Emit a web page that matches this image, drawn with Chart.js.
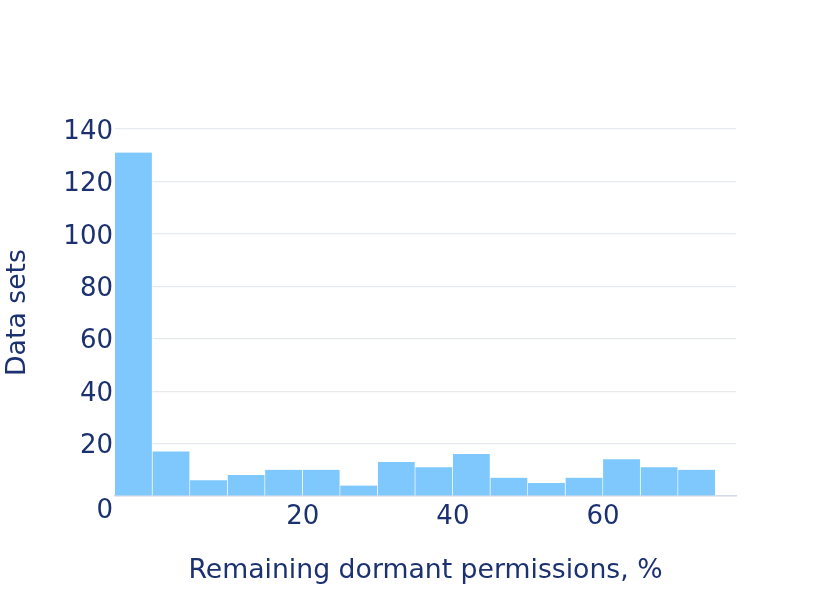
<!DOCTYPE html>
<html>
<head>
<meta charset="utf-8">
<script src="https://cdn.jsdelivr.net/npm/chart.js@4"></script>
<style>
  html, body { margin: 0; padding: 0; background: #fff; }
  #wrap { width: 831px; height: 593px; }
</style>
</head>
<body>
<div id="wrap"><canvas id="myChart" width="831" height="593"></canvas></div>
<script>
'use strict';

// histogram bins (start of each 5% bin) and counts
var binStarts = [-5, 0, 5, 10, 15, 20, 25, 30, 35, 40, 45, 50, 55, 60, 65, 70];
var binWidth = 5;
var counts = [131, 17, 6, 8, 10, 10, 4, 13, 11, 16, 7, 5, 7, 14, 11, 10];
var xTicks = [20, 40, 60];
var yTicks = [0, 20, 40, 60, 80, 100, 120, 140];

var textColor = '#1b3170';
var fontFamily = '"DejaVu Sans", sans-serif';

var points = binStarts.map(function(s, i){
    return { x: s + binWidth / 2, y: counts[i] };
});

// plotly puts the zero label a bit lower than its gridline
var zeroLabel = {
    id: 'zeroLabel',
    afterDraw: function(chart){
        var ctx = chart.ctx;
        var y = chart.scales.y;
        ctx.save();
        ctx.font = '26px ' + fontFamily;
        ctx.fillStyle = textColor;
        ctx.textAlign = 'right';
        ctx.textBaseline = 'middle';
        ctx.fillText('0', y.right - 2, y.getPixelForValue(0) + 15);
        ctx.restore();
    }
};

const ctx = document.getElementById('myChart');
var myChart = new Chart(ctx, {
    type: 'bar',
    data: {
        datasets: [{
            data: points,
            backgroundColor: '#7ec8fe',
            borderColor: 'rgba(255,255,255,0.8)',
            borderWidth: { top: 0, right: 1, bottom: 0, left: 0 },
            borderSkipped: false,
            barPercentage: 1,
            categoryPercentage: 1
        }]
    },
    plugins: [zeroLabel],
    options: {
        responsive: false,
        animation: false,
        layout: { padding: { left: 0, top: 129, right: 95, bottom: 0 } },
        plugins: {
            legend: { display: false },
            tooltip: { enabled: false }
        },
        scales: {
            x: {
                type: 'linear',
                offset: false,
                min: -5,
                max: 77.7,
                afterBuildTicks: function(axis){
                    axis.ticks = xTicks.map(function(v){ return { value: v }; });
                },
                afterFit: function(axis){ axis.height = 97; },
                grid: { display: false, drawTicks: false },
                border: { display: true, color: '#d3dce6', width: 1.5 },
                ticks: {
                    color: textColor,
                    font: { family: fontFamily, size: 26 },
                    padding: 6,
                    maxRotation: 0
                },
                title: {
                    display: true,
                    text: 'Remaining dormant permissions, %',
                    color: textColor,
                    font: { family: fontFamily, size: 26.7 },
                    padding: { top: 0, bottom: 6 }
                }
            },
            y: {
                min: 0,
                max: 140,
                afterBuildTicks: function(axis){
                    axis.ticks = yTicks.map(function(v){ return { value: v }; });
                },
                afterFit: function(axis){ axis.width = 115; },
                grid: { color: '#e6eaef', lineWidth: 1.2, drawTicks: false },
                border: { display: false },
                ticks: {
                    color: textColor,
                    font: { family: fontFamily, size: 26 },
                    padding: 2,
                    labelOffset: 3,
                    callback: function(v){ return v === 0 ? '' : v; }
                },
                title: {
                    display: true,
                    text: 'Data sets',
                    color: textColor,
                    font: { family: fontFamily, size: 26.7 },
                    padding: { top: 2, bottom: 0 }
                }
            }
        }
    }
});
</script>
</body>
</html>
